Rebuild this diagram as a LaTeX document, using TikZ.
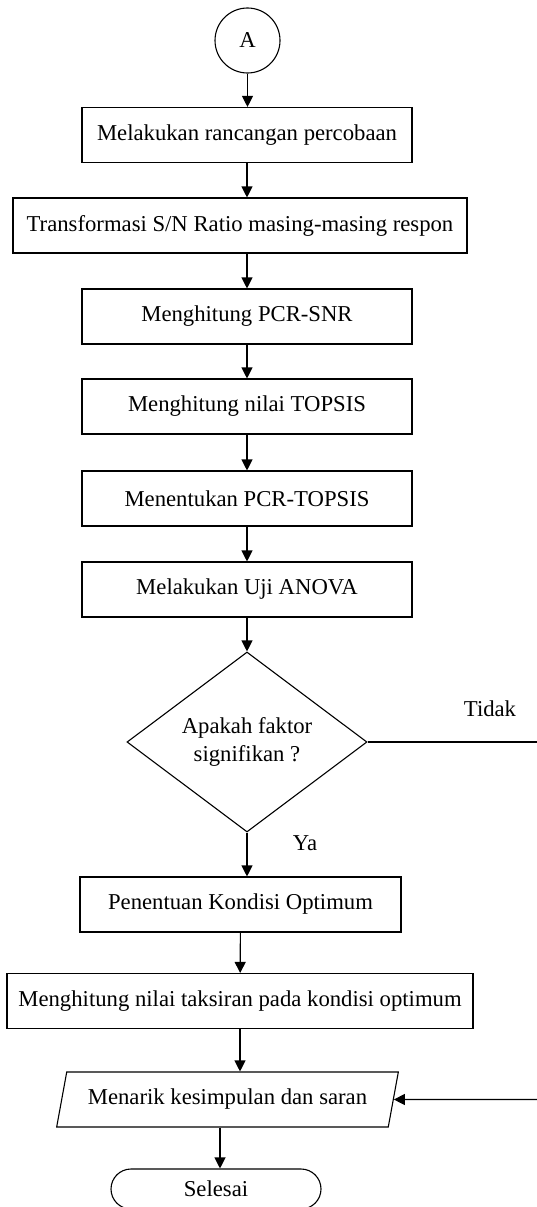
\documentclass[tikz,border=0pt]{standalone}
\usepackage{fontspec}
\setmainfont{Liberation Serif}
\usetikzlibrary{shapes.geometric,shapes.misc,arrows.meta}
\begin{document}
\begin{tikzpicture}[x=1pt,y=-1pt,
  every node/.style={font=\fontsize{22.7}{27}\selectfont},
  line/.style={draw=black,line width=1.1pt},
  arr/.style={line,-{Triangle[width=11pt,length=11pt]}},
  procbox/.style={line,rectangle,inner sep=0pt,minimum height=55pt},
  conn/.style={line,circle,inner sep=0pt,minimum size=65pt},
  decide/.style={line,diamond,inner sep=0pt,minimum width=240pt,minimum height=180pt,align=center,font=\fontsize{22.7}{28}\selectfont},
  io/.style={line,trapezium,trapezium left angle=67,trapezium right angle=113,trapezium stretches=true,inner sep=0pt,minimum width=343pt,minimum height=55pt},
  term/.style={line,rounded rectangle,inner sep=0pt,minimum width=210pt,minimum height=40pt},
  lbl/.style={inner sep=0pt}]
\useasboundingbox (0,0) rectangle (537,1207);
\clip (0,0) rectangle (537,1207);
\fill[white] (0,0) rectangle (537,1207);

\node[conn] (a) at (247.5,40.5) {A};
\node[procbox,minimum width=330pt] (b1) at (247,135) {Melakukan rancangan percobaan};
\node[procbox,minimum width=454pt] (b2) at (240,225.5) {Transformasi S/N Ratio masing-masing respon};
\node[procbox,minimum width=330pt] (b3) at (247,316.5) {Menghitung PCR-SNR};
\node[procbox,minimum width=330pt] (b4) at (247,406.5) {Menghitung nilai TOPSIS};
\node[procbox,minimum width=330pt] (b5) at (247,498.5) {Menentukan PCR-TOPSIS};
\node[procbox,minimum width=330pt] (b6) at (247,589.5) {Melakukan Uji ANOVA};
\node[decide] (d) at (247,742) {Apakah faktor\\signifikan ?};
\node[procbox,minimum width=321pt] (b7) at (240.5,904.5) {Penentuan Kondisi Optimum};
\node[procbox,minimum width=466pt] (b8) at (240,1001) {Menghitung nilai taksiran pada kondisi optimum};
\node[io] (p) at (227.5,1099.5) {Menarik kesimpulan dan saran};
\node[term] (t) at (216,1189) {Selesai};

\node[lbl] (tidak) at (490,709) {Tidak};
\node[lbl] (ya) at (305,843) {Ya};

\coordinate (r1) at (537,742);
\coordinate (r2) at (537,1099.5);

\draw[arr] (a.south) -- (a.south |- b1.north);
\draw[arr] (b1.south -| 247,0) -- (b2.north -| 247,0);
\draw[arr] (b2.south -| 247,0) -- (b3.north -| 247,0);
\draw[arr] (b3) -- (b4);
\draw[arr] (b4) -- (b5);
\draw[arr] (b5) -- (b6);
\draw[arr] (b6) -- (d);
\draw[arr] (d.south) -- (d.south |- b7.north);
\draw[arr] (b7) -- (b8);
\draw[arr] (b8.south) -- (b8.south |- p.north);
\draw[arr] (p.south -| 220,0) -- (t.north -| 220,0);
\draw[line] (d.east) -- (r1);
\draw[arr] (r2) -- (p.east);
\end{tikzpicture}
\end{document}
